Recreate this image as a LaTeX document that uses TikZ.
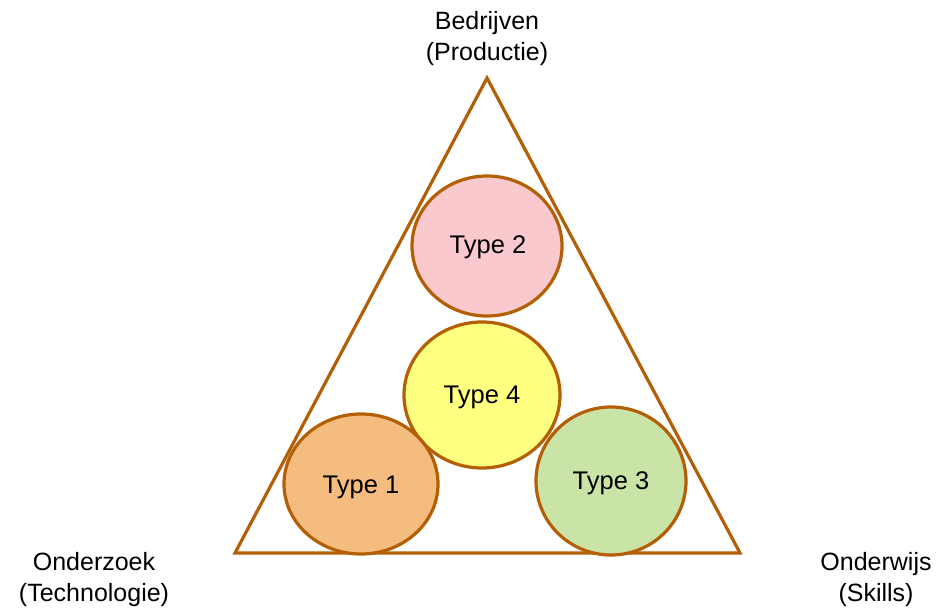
\documentclass[tikz,border=0pt]{standalone}
\usepackage{fontspec}
\setmainfont{Liberation Sans}
\definecolor{edge}{HTML}{B45F06}
\definecolor{fpink}{HTML}{F9C9CD}
\definecolor{forange}{HTML}{F5BC80}
\definecolor{fyellow}{HTML}{FFFF80}
\definecolor{fgreen}{HTML}{C9E4A6}
\begin{document}
\begin{tikzpicture}[x=1pt,y=-1pt,
  lbl/.style={font=\fontsize{25.5}{31}\selectfont,align=center},
  corner/.style={font=\fontsize{25}{31}\selectfont,align=center}]
\useasboundingbox (0,0) rectangle (945,610);
\coordinate (top) at (487,78);
\coordinate (bl) at (235,553);
\coordinate (br) at (740,553);
\draw[edge,line width=3.2pt,line join=miter] (top) -- (bl) -- (br) -- cycle;
\filldraw[fill=fpink,draw=edge,line width=3.2pt] (487,246) ellipse [x radius=75,y radius=70];
\filldraw[fill=fyellow,draw=edge,line width=3.2pt] (482,395) ellipse [x radius=78,y radius=73];
\filldraw[fill=forange,draw=edge,line width=3.2pt] (361,484) ellipse [x radius=77,y radius=70];
\filldraw[fill=fgreen,draw=edge,line width=3.2pt] (611,481) ellipse [x radius=75,y radius=74];
\node[lbl] (t2) at (488,247) {Type 2};
\node[lbl] (t4) at (482,397) {Type 4};
\node[lbl] (t1) at (361,487) {Type 1};
\node[lbl] (t3) at (611,483) {Type 3};
\node[corner] (bed) at (487,39) {Bedrijven\\(Productie)};
\node[corner] (ond) at (94,580) {Onderzoek\\(Technologie)};
\node[corner] (onw) at (876,580) {Onderwijs\\(Skills)};
\end{tikzpicture}
\end{document}
